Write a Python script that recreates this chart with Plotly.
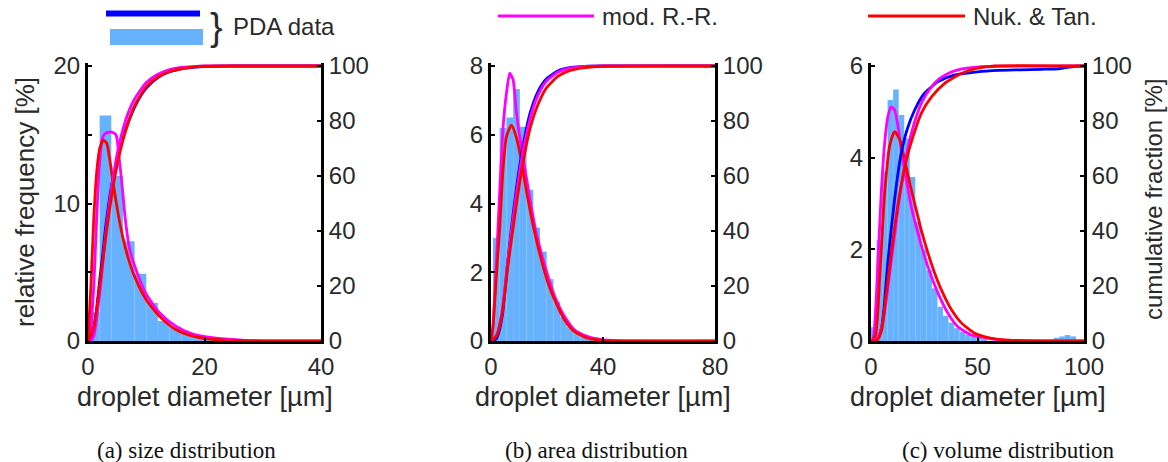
import plotly.graph_objects as go

W, H = 1168, 462

# ---------------- (a) size distribution ----------------
a_hist_x = [1, 3, 5, 7, 9, 11, 13, 15, 17, 19, 21, 23, 25]
a_hist_y = [2.1, 16.4, 12.0, 7.25, 4.9, 2.77, 1.46, 1.0, 0.58, 0.3, 0.15, 0.08, 0.04]
a_hist_w = 2.0

a_cum_pda_x = [0.5, 1.0, 1.5, 2, 2.5, 3, 3.5, 4, 5, 6, 7, 8, 9, 10, 12, 14, 16, 18, 20, 25, 40]
a_cum_pda_y = [0, 4, 12, 22, 31, 41, 49, 56, 66, 74, 80, 85, 89, 92, 95.8, 97.9, 99, 99.5, 99.8, 100, 100]
a_cum_rr_x = [0.5, 1, 2, 3, 4, 5, 6, 7, 8, 10, 12, 14, 16, 18, 20, 40]
a_cum_rr_y = [0, 2, 17, 38, 55, 68, 77, 83.5, 88, 94, 97, 98.7, 99.5, 99.8, 100, 100]
a_cum_nt_x = [0, 1, 2, 3, 4, 5, 6, 7, 8, 10, 12, 14, 16, 18, 20, 25, 40]
a_cum_nt_y = [0, 5, 20, 37, 52, 64, 73, 80, 85.5, 92.5, 96, 98, 99, 99.6, 99.9, 100, 100]
a_pdf_rr_x = [0.4, 1.0, 1.5, 2.0, 2.5, 3, 4, 4.8, 5.3, 5.8, 6.5, 7.2, 8.4, 10, 12.4, 15, 18, 22, 27, 32, 40]
a_pdf_rr_y = [0, 4, 9, 13, 14.8, 15.1, 15.2, 15.0, 13.5, 11.5, 8.5, 6.6, 5.0, 3.4, 2.0, 1.1, 0.5, 0.2, 0.05, 0.01, 0]
a_pdf_nt_x = [0, 0.5, 1.0, 1.5, 2.0, 2.6, 3.2, 3.8, 4.5, 5.2, 6, 7, 8, 10, 12.5, 15, 18, 21, 25, 30, 40]
a_pdf_nt_y = [0, 4, 9, 12.3, 14, 14.6, 14.4, 13, 11, 9.2, 7.5, 5.9, 4.7, 3.0, 1.7, 0.85, 0.35, 0.13, 0.04, 0.01, 0]

# ---------------- (b) area distribution ----------------
b_hist_x = [-0.5, 1.9, 4.3, 6.7, 9.1, 11.5, 13.9, 16.3, 18.7, 21.1, 23.5, 25.9, 28.3, 30.7, 33.1, 35.5, 37.9]
b_hist_y = [0.3, 3.0, 6.2, 6.5, 7.33, 6.23, 4.4, 3.3, 2.6, 1.8, 1.15, 0.7, 0.42, 0.26, 0.14, 0.07, 0.03]
b_hist_w = 2.4

b_cum_pda_x = [0, 2, 4, 6, 8, 10, 12, 14, 16, 18, 20, 24, 28, 32, 40, 80]
b_cum_pda_y = [0, 1, 9, 29, 47, 62, 74, 83, 89, 93, 95.5, 98.3, 99.4, 99.8, 100, 100]
b_cum_rr_x = [0, 2, 4, 6, 8, 10, 12, 14, 16, 18, 20, 24, 28, 32, 40, 80]
b_cum_rr_y = [0, 2, 11, 29, 45.5, 60, 72, 81, 87.5, 91.8, 94.7, 97.8, 99.2, 99.7, 100, 100]
b_cum_nt_x = [0, 2, 4, 6, 8, 10, 12, 14, 16, 18, 20, 24, 28, 32, 40, 80]
b_cum_nt_y = [0, 2, 10, 27, 42, 56, 68, 77.5, 84, 88.8, 92.3, 96.3, 98.3, 99.2, 99.9, 100]
b_pdf_rr_x = [0, 0.7, 1.5, 2.5, 3.5, 4.3, 5.5, 6.7, 7.9, 9.0, 10.8, 12.6, 14.4, 16.2, 18, 20.4, 22.8, 26.3, 29.9, 34.6, 39, 45, 80]
b_pdf_rr_y = [0, 0.4, 1.6, 3.3, 5.0, 6.2, 7.2, 7.79, 7.6, 6.7, 5.65, 4.78, 3.9, 3.13, 2.55, 1.87, 1.29, 0.71, 0.32, 0.13, 0.05, 0.01, 0]
b_pdf_nt_x = [0, 0.7, 1.9, 3.1, 4.3, 5.5, 7.3, 9.0, 10.8, 12.6, 14.4, 16.2, 18, 20.4, 22.8, 26.3, 29.9, 34.6, 40, 50, 80]
b_pdf_nt_y = [0, 0.42, 1.87, 3.3, 5.0, 5.94, 6.28, 5.94, 5.27, 4.39, 3.62, 2.94, 2.36, 1.68, 1.19, 0.61, 0.27, 0.08, 0.02, 0, 0]

# ---------------- (c) volume distribution ----------------
c_hist_x = [1.3, 3.9, 6.5, 9.1, 11.7, 14.3, 16.9, 19.5, 22.1, 24.7, 27.3, 29.9, 32.5, 35.1, 37.7, 40.3,
            42.9, 45.5, 48.1, 50.7, 53.3, 87.1, 89.7, 92.3, 94.9]
c_hist_y = [0.3, 2.2, 3.7, 5.26, 5.49, 4.93, 4.42, 3.58, 2.6, 2.0, 1.55, 1.15, 0.75, 0.55, 0.4, 0.28,
            0.2, 0.14, 0.1, 0.07, 0.05, 0.07, 0.1, 0.13, 0.1]
c_hist_w = 2.6

c_cum_pda_x = [0, 3, 5, 6, 8, 11, 14, 17, 20.5, 25, 31.5, 39, 50, 60, 70, 80, 88, 92, 96, 100]
c_cum_pda_y = [0, 0.5, 5, 11, 29.5, 51, 67.5, 77, 84, 90, 94.3, 96.7, 97.9, 98.4, 98.6, 98.8, 99, 99.5, 99.9, 100]
c_cum_rr_x = [0, 3, 5, 7, 9, 11, 13, 15, 17, 20, 24, 28, 32, 36, 40, 45, 50, 60, 100]
c_cum_rr_y = [0, 1, 5, 14, 26, 38, 50, 60, 69, 78.5, 87, 92, 95.3, 97.2, 98.4, 99.2, 99.6, 99.9, 100]
c_cum_nt_x = [0, 3, 5, 7, 10.3, 13.5, 16.6, 19.7, 23.6, 28.4, 34.6, 42.4, 50, 58, 100]
c_cum_nt_y = [0, 0.5, 4, 16, 36.7, 53.7, 65.8, 74.3, 82.8, 88.8, 93.7, 97.3, 99.2, 100, 100]
c_pdf_rr_x = [0, 1, 3.3, 4.8, 6.4, 7.9, 9.5, 11.1, 12.7, 14.2, 16.6, 18.9, 22.1, 25.2, 28.4, 31.5, 36.2, 40.8, 47.1, 55, 65, 100]
c_pdf_rr_y = [0, 0.05, 1.77, 3.22, 4.31, 4.89, 5.11, 5.04, 4.68, 4.17, 3.51, 2.93, 2.35, 1.84, 1.40, 1.04, 0.60, 0.31, 0.13, 0.06, 0.01, 0]
c_pdf_nt_x = [0, 2, 4.1, 6.4, 8.7, 11.1, 13.5, 15.8, 18.2, 20.5, 23.6, 26.8, 29.9, 33.1, 37.8, 42.5, 48.7, 56.5, 65, 100]
c_pdf_nt_y = [0, 0.1, 1.4, 3.22, 4.24, 4.57, 4.39, 3.95, 3.44, 3.0, 2.42, 1.91, 1.48, 1.11, 0.68, 0.39, 0.17, 0.06, 0.02, 0]

# ---------------- axes / labels ----------------
x_ranges = [40, 80, 100]
x_ticks = [[0, 20, 40], [0, 40, 80], [0, 50, 100]]
y_max = [20, 8, 6]
y_ticks = [[0, 5, 10, 15, 20], [0, 2, 4, 6, 8], [0, 2, 4, 6]]
y_ticktext = [["0", "", "10", "", "20"], ["0", "2", "4", "6", "8"], ["0", "2", "4", "6"]]
cum_ticks = [0, 20, 40, 60, 80, 100]
captions = ["(a) size distribution", "(b) area distribution", "(c) volume distribution"]
x_title = "droplet diameter [µm]"
y_title_left = "relative frequency [%]"
y_title_right = "cumulative fraction [%]"
legend_labels = ["PDA data", "mod. R.-R.", "Nuk. & Tan."]

# ---------------- styling / geometry ----------------
BAR = "#66B2FF"
BLUE = "#0000FF"
MAG = "#FF00FF"
RED = "#FF0000"
LW = 2.8
FONT = "Liberation Sans, Arial, sans-serif"
TXT = "#2a2a2a"

px_left = [88, 491, 871]
px_right = [321, 715, 1084]
px_top, px_bot, px_top_clip = 66, 341, 63
kext = (px_bot - px_top_clip) / (px_bot - px_top)
ydom = [(H - px_bot) / H, (H - px_top_clip) / H]

panels = [
    (a_hist_x, a_hist_y, a_hist_w, a_cum_pda_x, a_cum_pda_y, a_cum_rr_x, a_cum_rr_y, a_cum_nt_x, a_cum_nt_y,
     a_pdf_rr_x, a_pdf_rr_y, a_pdf_nt_x, a_pdf_nt_y),
    (b_hist_x, b_hist_y, b_hist_w, b_cum_pda_x, b_cum_pda_y, b_cum_rr_x, b_cum_rr_y, b_cum_nt_x, b_cum_nt_y,
     b_pdf_rr_x, b_pdf_rr_y, b_pdf_nt_x, b_pdf_nt_y),
    (c_hist_x, c_hist_y, c_hist_w, c_cum_pda_x, c_cum_pda_y, c_cum_rr_x, c_cum_rr_y, c_cum_nt_x, c_cum_nt_y,
     c_pdf_rr_x, c_pdf_rr_y, c_pdf_nt_x, c_pdf_nt_y),
]

fig = go.Figure()
layout = {}
tickfont = dict(family=FONT, size=24, color=TXT)

for i, p in enumerate(panels):
    (hx, hy, hw, cpx, cpy, crx, cry, cnx, cny, prx, pry, pnx, pny) = p
    xa = "x" if i == 0 else f"x{i+1}"
    yl = "y" if i == 0 else f"y{2*i+1}"
    yr = f"y{2*i+2}"
    fig.add_trace(go.Bar(x=hx, y=hy, width=hw, marker=dict(color=BAR, line=dict(width=0)),
                         xaxis=xa, yaxis=yl, showlegend=False))
    spl = dict(shape="spline", smoothing=0.6)
    fig.add_trace(go.Scatter(x=prx, y=pry, mode="lines", line=dict(color=MAG, width=LW, **spl),
                             xaxis=xa, yaxis=yl, showlegend=False))
    fig.add_trace(go.Scatter(x=pnx, y=pny, mode="lines", line=dict(color=RED, width=LW, **spl),
                             xaxis=xa, yaxis=yl, showlegend=False))
    fig.add_trace(go.Scatter(x=cpx, y=cpy, mode="lines", line=dict(color=BLUE, width=LW, **spl),
                             xaxis=xa, yaxis=yr, showlegend=False))
    fig.add_trace(go.Scatter(x=crx, y=cry, mode="lines", line=dict(color=MAG, width=LW, **spl),
                             xaxis=xa, yaxis=yr, showlegend=False))
    fig.add_trace(go.Scatter(x=cnx, y=cny, mode="lines", line=dict(color=RED, width=LW, **spl),
                             xaxis=xa, yaxis=yr, showlegend=False))

    common = dict(showline=True, linewidth=3, linecolor="black", ticks="inside", ticklen=4,
                  tickwidth=2, tickcolor="black", showgrid=False, zeroline=False, tickfont=tickfont,
                  automargin=False)
    xkey = "xaxis" if i == 0 else f"xaxis{i+1}"
    ylkey = "yaxis" if i == 0 else f"yaxis{2*i+1}"
    yrkey = f"yaxis{2*i+2}"
    layout[xkey] = dict(domain=[px_left[i] / W, px_right[i] / W], anchor=yl, range=[0, x_ranges[i]],
                        tickmode="array", tickvals=x_ticks[i], ticklabelstandoff=2, **common)
    layout[ylkey] = dict(domain=ydom, anchor=xa, range=[0, y_max[i] * kext], tickmode="array",
                         tickvals=y_ticks[i], ticktext=y_ticktext[i], **common)
    layout[yrkey] = dict(overlaying=yl, anchor=xa, side="right", range=[0, 100 * kext], tickmode="array",
                         tickvals=cum_ticks, **common)

annotations = []
shapes = []
for i in range(3):
    cx = (px_left[i] + px_right[i]) / 2 / W
    annotations.append(dict(text=x_title, x=cx, y=(H - 397) / H, xref="paper", yref="paper",
                            showarrow=False, xanchor="center", yanchor="middle",
                            font=dict(family=FONT, size=27, color=TXT)))
cap_cx = [186, 596, 1008]
for i in range(3):
    annotations.append(dict(text=captions[i], x=cap_cx[i] / W, y=(H - 450) / H, xref="paper", yref="paper",
                            showarrow=False, xanchor="center", yanchor="middle",
                            font=dict(family="Liberation Serif, Times New Roman, serif", size=23, color="#111")))
annotations.append(dict(text=y_title_left, x=25 / W, y=(H - 202) / H, xref="paper", yref="paper",
                        showarrow=False, textangle=-90, xanchor="center", yanchor="middle",
                        font=dict(family=FONT, size=26, color=TXT)))
annotations.append(dict(text=y_title_right, x=1153 / W, y=(H - 200) / H, xref="paper", yref="paper",
                        showarrow=False, textangle=-90, xanchor="center", yanchor="middle",
                        font=dict(family=FONT, size=24, color=TXT)))


def ppx(x):
    return x / W


def ppy(y):
    return (H - y) / H


# legend (drawn manually, as in the reference)
shapes.append(dict(type="line", xref="paper", yref="paper", x0=ppx(106), x1=ppx(200), y0=ppy(13.5), y1=ppy(13.5),
                   line=dict(color=BLUE, width=6)))
shapes.append(dict(type="rect", xref="paper", yref="paper", x0=ppx(110), x1=ppx(203), y0=ppy(45), y1=ppy(29),
                   line=dict(width=0), fillcolor=BAR))
annotations.append(dict(text="}", x=ppx(216), y=ppy(27), xref="paper", yref="paper", showarrow=False,
                        xanchor="center", yanchor="middle", font=dict(family=FONT, size=38, color=TXT)))
annotations.append(dict(text=legend_labels[0], x=ppx(231), y=ppy(27), xref="paper", yref="paper",
                        showarrow=False, xanchor="left", yanchor="middle",
                        font=dict(family=FONT, size=24, color=TXT)))
shapes.append(dict(type="line", xref="paper", yref="paper", x0=ppx(498), x1=ppx(594), y0=ppy(16), y1=ppy(16),
                   line=dict(color=MAG, width=3)))
annotations.append(dict(text=legend_labels[1], x=ppx(600), y=ppy(16), xref="paper", yref="paper",
                        showarrow=False, xanchor="left", yanchor="middle",
                        font=dict(family=FONT, size=24, color=TXT)))
shapes.append(dict(type="line", xref="paper", yref="paper", x0=ppx(868), x1=ppx(965), y0=ppy(16), y1=ppy(16),
                   line=dict(color=RED, width=3)))
annotations.append(dict(text=legend_labels[2], x=ppx(971), y=ppy(16), xref="paper", yref="paper",
                        showarrow=False, xanchor="left", yanchor="middle",
                        font=dict(family=FONT, size=24, color=TXT)))

fig.update_layout(template="none", width=W, height=H,
                  margin=dict(l=0, r=0, t=0, b=0, pad=0, autoexpand=False),
                  plot_bgcolor="white", paper_bgcolor="white", barmode="overlay",
                  annotations=annotations, shapes=shapes, showlegend=False, **layout)
fig.write_html("out.html")
